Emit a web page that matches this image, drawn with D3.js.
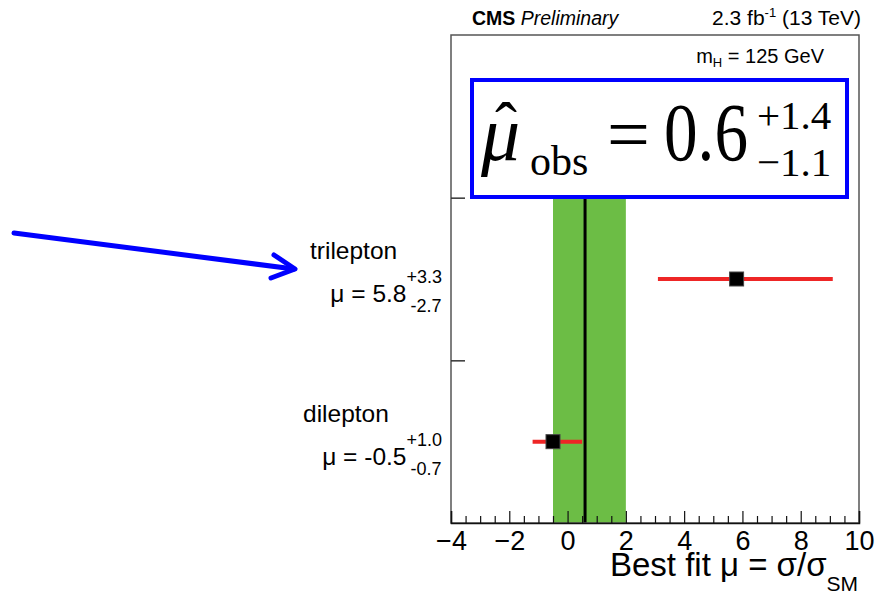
<!DOCTYPE html>
<html>
<head>
<meta charset="utf-8">
<script src="https://cdn.jsdelivr.net/npm/d3@7/dist/d3.min.js"></script>
<style>
  html, body { margin: 0; padding: 0; background: #fff; }
  svg { display: block; font-family: "Liberation Sans", Arial, sans-serif; }
</style>
</head>
<body>
<svg id="chart" width="875" height="595"></svg>
<script>
// Channel results (bottom to top)
const channels = ["dilepton", "trilepton"];
const muBest = [-0.5, 5.8];
const muErrUp = [1.0, 3.3];
const muErrDown = [0.7, 2.7];

// Combined fit
const muCombined = 0.6;
const muCombinedUp = 1.4;
const muCombinedDown = 1.1;

// Axis ticks
const xMajorTicks = [-4, -2, 0, 2, 4, 6, 8, 10];
const xMinorTicks = d3.range(-4, 10.01, 0.5);
const yTicks = [1, 2];

const svg = d3.select("#chart");

const frame = { left: 451, right: 859, top: 35, bottom: 523 };
const x = d3.scaleLinear().domain([-4, 10]).range([frame.left, frame.right]);
const y = d3.scaleLinear().domain([0, 3]).range([frame.bottom, frame.top]);

// Combined uncertainty band and central value
svg.append("rect")
  .attr("x", x(muCombined - muCombinedDown))
  .attr("width", x(muCombined + muCombinedUp) - x(muCombined - muCombinedDown))
  .attr("y", y(2))
  .attr("height", y(0) - y(2))
  .attr("fill", "#6cbd45");

svg.append("line")
  .attr("x1", x(muCombined)).attr("x2", x(muCombined))
  .attr("y1", y(0)).attr("y2", y(2))
  .attr("stroke", "#000").attr("stroke-width", 3);

// Frame
svg.append("rect")
  .attr("x", frame.left).attr("y", frame.top)
  .attr("width", frame.right - frame.left)
  .attr("height", frame.bottom - frame.top)
  .attr("fill", "none")
  .attr("stroke", "#555")
  .attr("stroke-width", 1.5);

// Bottom axis: major ticks with labels, minor ticks without
const xAxisMajor = d3.axisBottom(x)
  .tickValues(xMajorTicks)
  .tickSize(-12)
  .tickPadding(8)
  .tickFormat(d3.format("d"));

const gx = svg.append("g")
  .attr("transform", `translate(0,${frame.bottom})`)
  .call(xAxisMajor);
gx.select(".domain").attr("stroke", "#111").attr("stroke-width", 1.5);
gx.selectAll(".tick line").attr("stroke", "#111").attr("stroke-width", 1.2);
gx.selectAll(".tick text")
  .attr("font-size", 27)
  .attr("font-family", "Liberation Sans, Arial, sans-serif")
  .attr("fill", "#000");

const gxMinor = svg.append("g")
  .attr("transform", `translate(0,${frame.bottom})`)
  .call(d3.axisBottom(x).tickValues(xMinorTicks.filter(v => !xMajorTicks.includes(v))).tickSize(-7).tickFormat(""));
gxMinor.select(".domain").remove();
gxMinor.selectAll(".tick line").attr("stroke", "#111").attr("stroke-width", 1.2);

// Left axis: category separators
const gy = svg.append("g")
  .attr("transform", `translate(${frame.left},0)`)
  .call(d3.axisLeft(y).tickValues(yTicks).tickSize(-14).tickFormat(""));
gy.select(".domain").remove();
gy.selectAll(".tick line").attr("stroke", "#333").attr("stroke-width", 1.5);

// Channel measurements
const rows = channels.map((name, i) => ({
  name, mu: muBest[i], up: muErrUp[i], down: muErrDown[i], pos: i + 0.5
}));

svg.selectAll("line.err")
  .data(rows)
  .join("line")
  .attr("class", "err")
  .attr("x1", d => x(d.mu - d.down))
  .attr("x2", d => x(d.mu + d.up))
  .attr("y1", d => y(d.pos))
  .attr("y2", d => y(d.pos))
  .attr("stroke", "#ee2626")
  .attr("stroke-width", 4);

svg.selectAll("rect.pt")
  .data(rows)
  .join("rect")
  .attr("class", "pt")
  .attr("x", d => x(d.mu) - 7)
  .attr("y", d => y(d.pos) - 7)
  .attr("width", 14)
  .attr("height", 14)
  .attr("fill", "#000")
  .attr("stroke", "#444")
  .attr("stroke-width", 1);

// Channel labels on the left
const labelRight = 442;
const wordX = { dilepton: 303, trilepton: 310 };
rows.forEach(d => {
  const yc = y(d.pos);
  svg.append("text")
    .attr("x", wordX[d.name])
    .attr("y", yc - 20)
    .attr("font-size", 24.5)
    .attr("fill", "#000")
    .text(d.name);

  const supTxt = "+" + d.up.toFixed(1);
  const subTxt = "-" + d.down.toFixed(1);
  const sup = svg.append("text")
    .attr("y", yc + 4)
    .attr("font-size", 18)
    .attr("fill", "#000")
    .text(supTxt);
  const sub = svg.append("text")
    .attr("y", yc + 33)
    .attr("font-size", 18)
    .attr("fill", "#000")
    .text(subTxt);
  const supW = sup.node().getComputedTextLength();
  const subW = sub.node().getComputedTextLength();
  const scriptX = labelRight - Math.max(supW, subW + 4);
  sup.attr("x", scriptX);
  sub.attr("x", scriptX + 4);
  svg.append("text")
    .attr("x", scriptX)
    .attr("y", yc + 23)
    .attr("text-anchor", "end")
    .attr("font-size", 24.5)
    .attr("fill", "#000")
    .text("μ = " + d.mu.toFixed(1));
});

// Header
const head = svg.append("text").attr("x", 472).attr("y", 25).attr("font-size", 19.5).attr("fill", "#000");
head.append("tspan").attr("font-weight", "bold").text("CMS ");
head.append("tspan").attr("font-style", "italic").text("Preliminary");

const lumi = svg.append("text").attr("x", 861).attr("y", 25).attr("text-anchor", "end").attr("font-size", 21).attr("fill", "#000");
lumi.append("tspan").text("2.3 fb");
lumi.append("tspan").attr("font-size", 13).attr("dy", -8).text("-1");
lumi.append("tspan").attr("dy", 8).text(" (13 TeV)");

const mass = svg.append("text").attr("x", 824).attr("y", 63).attr("text-anchor", "end").attr("font-size", 20).attr("fill", "#000");
mass.append("tspan").text("m");
mass.append("tspan").attr("font-size", 13).attr("dy", 4).text("H");
mass.append("tspan").attr("dy", -4).text(" = 125 GeV");

// Combined result box
svg.append("rect")
  .attr("x", 472).attr("y", 80)
  .attr("width", 375).attr("height", 117)
  .attr("fill", "#fff")
  .attr("stroke", "#0000ff")
  .attr("stroke-width", 4);

const serif = "Liberation Serif, Times New Roman, serif";
svg.append("text").attr("x", 481).attr("y", 160).attr("font-family", serif)
  .attr("font-style", "italic").attr("font-size", 78).attr("fill", "#000").text("μ");
svg.append("text").attr("x", 495).attr("y", 148).attr("font-family", serif)
  .attr("font-size", 66).attr("fill", "#000").text("ˆ");
svg.append("text").attr("x", 530).attr("y", 175).attr("font-family", serif)
  .attr("font-size", 42).attr("fill", "#000").text("obs");
svg.append("text").attr("x", 607).attr("y", 160).attr("font-family", serif)
  .attr("font-size", 76).attr("fill", "#000").text("=");
svg.append("text").attr("x", 664).attr("y", 160).attr("font-family", serif)
  .attr("font-size", 82).attr("textLength", 84).attr("lengthAdjust", "spacingAndGlyphs")
  .attr("fill", "#000").text(muCombined.toFixed(1));
svg.append("text").attr("x", 757).attr("y", 129).attr("font-family", serif)
  .attr("font-size", 41).attr("fill", "#000").text("+" + muCombinedUp.toFixed(1));
svg.append("text").attr("x", 757).attr("y", 176).attr("font-family", serif)
  .attr("font-size", 41).attr("fill", "#000").text("−" + muCombinedDown.toFixed(1));

// Axis title
const title = svg.append("text").attr("x", 858).attr("y", 576).attr("text-anchor", "end")
  .attr("font-size", 33).attr("fill", "#000");
title.append("tspan").text("Best fit μ = σ/σ");
title.append("tspan").attr("font-size", 21).attr("dy", 15).text("SM");

// Pointer arrow
const arrow = svg.append("g")
  .attr("fill", "none")
  .attr("stroke", "#0000ff")
  .attr("stroke-width", 5)
  .attr("stroke-linecap", "round")
  .attr("stroke-linejoin", "round");
arrow.append("line").attr("x1", 14).attr("y1", 233).attr("x2", 294).attr("y2", 269);
arrow.append("polyline").attr("points", "274,255 295,269 271,278");
</script>
</body>
</html>
